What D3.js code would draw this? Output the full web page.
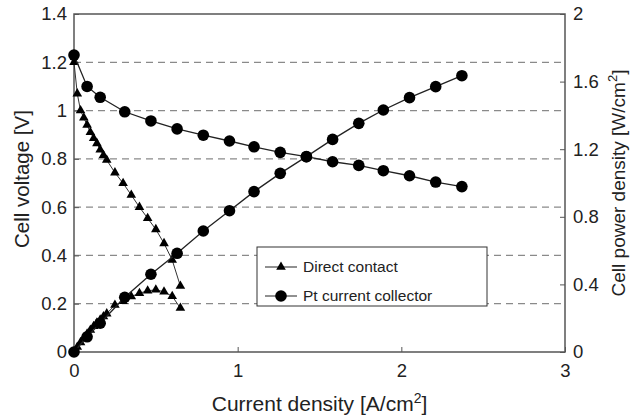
<!DOCTYPE html>
<html>
<head>
<meta charset="utf-8">
<script src="https://cdn.jsdelivr.net/npm/d3@7"></script>
<style>
    body { margin: 0; background: #fff; }
    text { font-family: "Liberation Sans", Arial, sans-serif; fill: #222; }
</style>
</head>
<body>
<div id="graph"></div>
<script>
// Direct contact (triangles)
var dcCurrent = [0, 0.02, 0.04, 0.06, 0.08, 0.10, 0.12, 0.14, 0.16, 0.18, 0.20, 0.25, 0.30, 0.35, 0.40, 0.45, 0.50, 0.55, 0.60, 0.65];
var dcVoltage = [1.20, 1.07, 1.00, 0.97, 0.94, 0.91, 0.885, 0.864, 0.838, 0.815, 0.795, 0.743, 0.699, 0.650, 0.600, 0.554, 0.508, 0.450, 0.381, 0.273];
var dcPower = [0, 0.03, 0.057, 0.083, 0.107, 0.13, 0.152, 0.173, 0.19, 0.21, 0.227, 0.278, 0.30, 0.328, 0.348, 0.362, 0.368, 0.356, 0.33, 0.26];

// Pt current collector (circles)
var ptCurrent = [0, 0.08, 0.16, 0.31, 0.47, 0.63, 0.79, 0.95, 1.10, 1.26, 1.42, 1.58, 1.74, 1.89, 2.05, 2.21, 2.37];
var ptVoltage = [1.23, 1.10, 1.055, 0.995, 0.957, 0.924, 0.898, 0.874, 0.850, 0.827, 0.809, 0.788, 0.773, 0.751, 0.730, 0.704, 0.685];
var ptPower = [0, 0.09, 0.17, 0.324, 0.46, 0.584, 0.716, 0.836, 0.949, 1.057, 1.156, 1.258, 1.353, 1.432, 1.505, 1.570, 1.635];

var xTicks = [0, 1, 2, 3];
var yTicks = [0, 0.2, 0.4, 0.6, 0.8, 1, 1.2, 1.4];
var y2Ticks = [0, 0.4, 0.8, 1.2, 1.6, 2];
var gridValues = [0.2, 0.4, 0.6, 0.8, 1, 1.2];

var margin = { top: 14, right: 74, bottom: 67, left: 74 },
    width = 639 - margin.left - margin.right,
    height = 419 - margin.top - margin.bottom;

var x = d3.scaleLinear().domain([0, 3]).range([0, width]);
var y = d3.scaleLinear().domain([0, 1.4]).range([height, 0]);
var y2 = d3.scaleLinear().domain([0, 2]).range([height, 0]);

var svg = d3.select("#graph").append("svg")
    .attr("width", 639)
    .attr("height", 419)
    .append("g")
    .attr("transform", "translate(" + margin.left + "," + margin.top + ")");

// dashed grid
svg.selectAll(".grid")
    .data(gridValues)
    .enter().append("line")
    .attr("x1", 0).attr("x2", width)
    .attr("y1", d => y(d)).attr("y2", d => y(d))
    .attr("stroke", "#8a8a8a")
    .attr("stroke-width", 1.2)
    .attr("stroke-dasharray", "7,5");

function styleAxis(g) {
    g.select(".domain").remove();
    g.selectAll(".tick line").attr("stroke", "#555");
    g.selectAll(".tick text").style("font-size", "18.5px").attr("fill", "#222");
}

function fmt(d) {
    return Number.isInteger(d) ? d : d3.format(".1f")(d);
}

svg.append("g")
    .attr("transform", "translate(0," + height + ")")
    .call(d3.axisBottom(x).tickValues(xTicks).tickFormat(fmt).tickSize(-5).tickPadding(12))
    .call(styleAxis);

svg.append("g")
    .call(d3.axisLeft(y).tickValues(yTicks).tickFormat(fmt).tickSize(-5).tickPadding(7))
    .call(styleAxis);

svg.append("g")
    .attr("transform", "translate(" + width + ",0)")
    .call(d3.axisRight(y2).tickValues(y2Ticks).tickFormat(fmt).tickSize(-5).tickPadding(8))
    .call(styleAxis);

// frame
svg.append("rect")
    .attr("width", width).attr("height", height)
    .attr("fill", "none")
    .attr("stroke", "#555")
    .attr("stroke-width", 1.5);

var dcV = dcCurrent.map((c, i) => ({ x: c, y: dcVoltage[i] }));
var dcP = dcCurrent.map((c, i) => ({ x: c, y: dcPower[i] }));
var ptV = ptCurrent.map((c, i) => ({ x: c, y: ptVoltage[i] }));
var ptP = ptCurrent.map((c, i) => ({ x: c, y: ptPower[i] }));

var lineV = d3.line().x(d => x(d.x)).y(d => y(d.y));
var lineP = d3.line().x(d => x(d.x)).y(d => y2(d.y));

var tri = d3.symbol().type(d3.symbolTriangle).size(40);

function drawTriangles(data, line, scale) {
    svg.append("path").datum(data)
        .attr("d", line).attr("fill", "none")
        .attr("stroke", "#333").attr("stroke-width", 1);
    svg.selectAll(null).data(data).enter().append("path")
        .attr("d", tri)
        .attr("transform", d => "translate(" + x(d.x) + "," + scale(d.y) + ")")
        .attr("fill", "#000");
}

function drawCircles(data, line, scale) {
    svg.append("path").datum(data)
        .attr("d", line).attr("fill", "none")
        .attr("stroke", "#222").attr("stroke-width", 1.3);
    svg.selectAll(null).data(data).enter().append("circle")
        .attr("cx", d => x(d.x)).attr("cy", d => scale(d.y))
        .attr("r", 5.8)
        .attr("fill", "#000");
}

drawTriangles(dcV, lineV, y);
drawTriangles(dcP, lineP, y2);
drawCircles(ptV, lineV, y);
drawCircles(ptP, lineP, y2);

// legend
var legend = svg.append("g").attr("transform", "translate(" + (257 - margin.left) + "," + (247 - margin.top) + ")");
legend.append("rect")
    .attr("width", 230).attr("height", 59)
    .attr("fill", "#fff").attr("stroke", "#333").attr("stroke-width", 1);

var legendItems = ["Direct contact", "Pt current collector"];
legendItems.forEach(function(name, i) {
    var yy = 20 + i * 29;
    legend.append("line")
        .attr("x1", 8).attr("x2", 40).attr("y1", yy).attr("y2", yy)
        .attr("stroke", "#222").attr("stroke-width", 1);
    if (i === 0) {
        legend.append("path").attr("d", tri).attr("transform", "translate(24," + yy + ")");
    } else {
        legend.append("circle").attr("cx", 24).attr("cy", yy).attr("r", 5.8).attr("fill", "#000");
    }
    legend.append("text")
        .attr("x", 46).attr("y", yy).attr("dy", "0.35em")
        .style("font-size", "15.5px")
        .text(name);
});

// axis titles
var titleX = svg.append("text")
    .attr("x", width / 2).attr("y", height + 59)
    .attr("text-anchor", "middle")
    .style("font-size", "21px");
titleX.append("tspan").text("Current density [A/cm");
titleX.append("tspan").attr("dy", "-8").style("font-size", "14px").text("2");
titleX.append("tspan").attr("dy", "8").text("]");

svg.append("text")
    .attr("transform", "translate(" + (-45) + "," + (height / 2 - 4) + ") rotate(-90)")
    .attr("text-anchor", "middle")
    .style("font-size", "20.5px")
    .text("Cell voltage [V]");

var titleY2 = svg.append("text")
    .attr("transform", "translate(" + (width + 60) + "," + (height / 2) + ") rotate(-90)")
    .attr("text-anchor", "middle")
    .style("font-size", "19px");
titleY2.append("tspan").text("Cell power density [W/cm");
titleY2.append("tspan").attr("dy", "-8").style("font-size", "13px").text("2");
titleY2.append("tspan").attr("dy", "8").text("]");
</script>
</body>
</html>
